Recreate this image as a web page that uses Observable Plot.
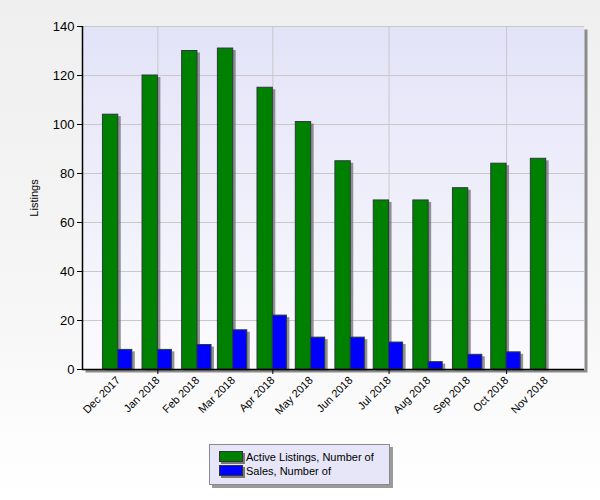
<!DOCTYPE html>
<html>
<head>
<meta charset="utf-8">
<script src="https://cdn.jsdelivr.net/npm/d3@7"></script>
<script src="https://cdn.jsdelivr.net/npm/@observablehq/plot@0.6"></script>
<style>
  html, body { margin: 0; padding: 0; }
  body { width: 600px; height: 500px; background: linear-gradient(#efefef, #f6f6f6 60%, #ffffff); position: relative; overflow: hidden; font-family: "Liberation Sans", Arial, sans-serif; }
  #chart { position: absolute; left: 0; top: 0; }
  #legend { position: absolute; left: 209px; top: 444px; width: 179px; height: 39px; background: #e6e6f8; border: 1px solid #8a8a8a; box-shadow: 3px 3px 0 #9a9a9a; font-size: 11px; color: #000; }
  .item { position: absolute; left: 9px; height: 14px; line-height: 14px; white-space: nowrap; }
  .sw { display: inline-block; width: 22px; height: 9px; border: 1px solid #333; box-shadow: 2px 2px 0 #777; vertical-align: -1px; margin-right: 3px; }
</style>
</head>
<body>
<div id="chart"></div>
<div id="legend"></div>
<script>
const months = ["2017-12-01","2018-01-01","2018-02-01","2018-03-01","2018-04-01","2018-05-01","2018-06-01","2018-07-01","2018-08-01","2018-09-01","2018-10-01","2018-11-01"];
const monthLabels = ["Dec 2017","Jan 2018","Feb 2018","Mar 2018","Apr 2018","May 2018","Jun 2018","Jul 2018","Aug 2018","Sep 2018","Oct 2018","Nov 2018"];
const activeListings = [104, 120, 130, 131, 115, 101, 85, 69, 69, 74, 84, 86];
const sales = [8, 8, 10, 16, 22, 13, 13, 11, 3, 6, 7, 0];
const gridMonths = ["2018-01-01","2018-04-01","2018-07-01","2018-10-01"];
const yTicks = [0, 20, 40, 60, 80, 100, 120, 140];
const seriesNames = ["Active Listings, Number of", "Sales, Number of"];
const seriesColors = ["#008000", "#0000ff"];

const dates = months.map(d => new Date(d));
const labelOf = new Map(dates.map((d, i) => [+d, monthLabels[i]]));
const gridDates = gridMonths.map(d => new Date(d));

const green = dates.map((d, i) => ({x1: d3.utcDay.offset(d, -12), x2: d, y: activeListings[i]}));
const blue = dates.map((d, i) => ({x1: d, x2: d3.utcDay.offset(d, 11), y: sales[i]}));

const xDomain = [new Date("2017-11-03"), new Date("2018-12-01")];

const chart = Plot.plot({
  width: 600,
  height: 440,
  marginLeft: 82,
  marginRight: 16,
  marginTop: 26,
  marginBottom: 71,
  style: {fontFamily: "'Liberation Sans', Arial, sans-serif", background: "transparent", overflow: "visible"},
  x: {type: "utc", domain: xDomain},
  y: {domain: [0, 140]},
  marks: [
    Plot.frame({fill: "#8c8c8c", stroke: null, dx: 3, dy: 3}),
    Plot.frame({fill: "url(#plotbg)", stroke: null}),
    Plot.gridY(yTicks, {stroke: "#c8c8c8", strokeOpacity: 1}),
    Plot.gridX(gridDates, {stroke: "#c8c8c8", strokeOpacity: 1}),
    Plot.rectY(green, {x1: "x1", x2: "x2", y: "y", fill: "#666", fillOpacity: 0.7, dx: 3, dy: 2}),
    Plot.rectY(blue.filter(d => d.y > 0), {x1: "x1", x2: "x2", y: "y", fill: "#666", fillOpacity: 0.7, dx: 3, dy: 2}),
    Plot.rectY(green, {x1: "x1", x2: "x2", y: "y", fill: seriesColors[0], stroke: "#2a3a3a", strokeWidth: 1}),
    Plot.rectY(blue.filter(d => d.y > 0), {x1: "x1", x2: "x2", y: "y", fill: seriesColors[1], stroke: "#2a3a3a", strokeWidth: 1}),
    Plot.axisY({ticks: yTicks, tickSize: 5, tickPadding: 3, fontSize: 13, label: "Listings", labelAnchor: "center", labelArrow: "none", labelOffset: 52, stroke: "#000"}),
    Plot.axisX({ticks: dates, tickSize: 0, tickPadding: 9, tickRotate: -45, tickFormat: d => labelOf.get(+d), fontSize: 11, label: null}),
    Plot.axisX({ticks: gridDates, tickSize: 5, tickFormat: () => "", label: null, stroke: "#000"}),
    Plot.ruleX([xDomain[0]], {stroke: "#000", strokeWidth: 1.5}),
    Plot.ruleY([0], {stroke: "#000", strokeWidth: 1.5})
  ]
});

const svg = d3.select(chart);
const defs = svg.insert("defs", ":first-child");
const grad = defs.append("linearGradient").attr("id", "plotbg").attr("x1", 0).attr("y1", 0).attr("x2", 0).attr("y2", 1);
grad.append("stop").attr("offset", "0%").attr("stop-color", "#e3e3f8");
grad.append("stop").attr("offset", "100%").attr("stop-color", "#fbfbfe");
svg.selectAll("[aria-label='y-axis label'] text, [aria-label='y-axis label']").attr("font-size", 11);

document.getElementById("chart").appendChild(chart);

const legend = document.getElementById("legend");
seriesNames.forEach((name, i) => {
  const item = document.createElement("div");
  item.className = "item";
  item.style.top = (5 + i * 14) + "px";
  const sw = document.createElement("span");
  sw.className = "sw";
  sw.style.background = seriesColors[i];
  item.appendChild(sw);
  item.appendChild(document.createTextNode(name));
  legend.appendChild(item);
});
</script>
</body>
</html>
